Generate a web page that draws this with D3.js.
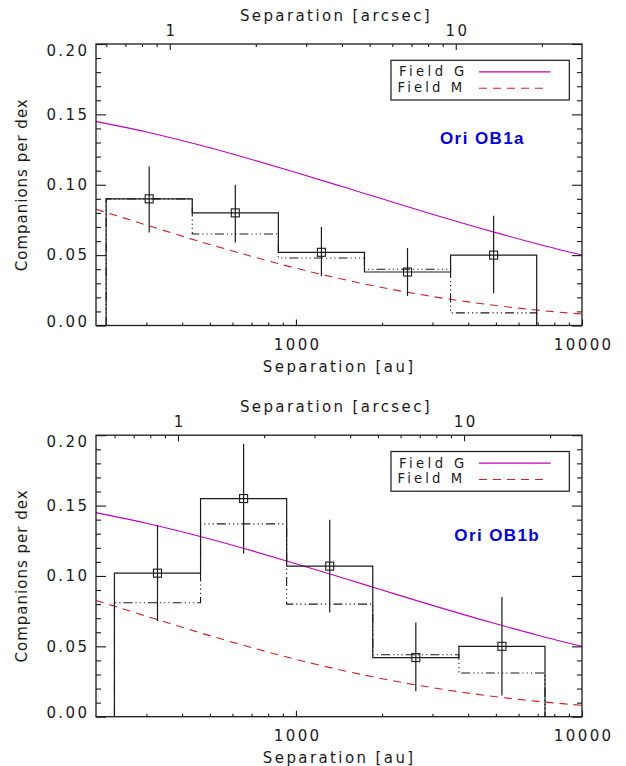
<!DOCTYPE html>
<html><head><meta charset="utf-8">
<script src="https://cdn.jsdelivr.net/npm/d3@7/dist/d3.min.js"></script>
<style>body{margin:0;background:#fff}svg{display:block}</style>
</head><body><svg id="c" width="626" height="766"></svg>
<script>
// ---- data ----
const sepGrid = [200, 300, 500, 700, 1000, 1500, 2000, 3000, 5000, 7000, 10000];
const fieldG  = [0.145, 0.1375, 0.1263, 0.118, 0.1087, 0.0978, 0.090, 0.0791, 0.066, 0.0579, 0.050];
const fieldM  = [0.0826, 0.0714, 0.0576, 0.0491, 0.0407, 0.0323, 0.027, 0.0206, 0.0142, 0.0109, 0.0081];
const legendLabels = ["Field G", "Field M"];

const ob1aEdges = [217, 434, 868, 1736, 3472, 6944];
const ob1aFrac  = [0.090, 0.080, 0.052, 0.038, 0.050];
const ob1aAlt   = [0.090, 0.065, 0.048, 0.040, 0.009];
const ob1aErrLo = [0.066, 0.059, 0.035, 0.021, 0.023];
const ob1aErrHi = [0.113, 0.100, 0.070, 0.055, 0.078];
const ob1aDist  = 362;

const ob1bEdges = [232, 464, 928, 1856, 3712, 7424];
const ob1bFrac  = [0.102, 0.155, 0.107, 0.042, 0.050];
const ob1bAlt   = [0.081, 0.137, 0.080, 0.044, 0.031];
const ob1bErrLo = [0.068, 0.116, 0.074, 0.018, 0.015];
const ob1bErrHi = [0.136, 0.194, 0.140, 0.067, 0.085];
const ob1bDist  = 387;

const yMajor = [0, 0.05, 0.10, 0.15, 0.20];
const yMinor = [0.01,0.02,0.03,0.04,0.06,0.07,0.08,0.09,0.11,0.12,0.13,0.14,0.16,0.17,0.18,0.19];
const auMajor = [1000, 10000];
const auMinor = [300,400,500,600,700,800,900,2000,3000,4000,5000,6000,7000,8000,9000];
const asMajor = [1, 10];
const asMinor = [0.6,0.7,0.8,0.9,2,3,4,5,6,7,8,9,20];

// ---- layout ----
const MAG = "#c000c0", RED = "#d02020", INK = "#1a1a1a";
const FONT = "DejaVu Sans";
const panels = [
  {name:"Ori OB1a", dist:ob1aDist, edges:ob1aEdges, frac:ob1aFrac, alt:ob1aAlt, lo:ob1aErrLo, hi:ob1aErrHi,
   off:0, lx:440, ly:144.3},
  {name:"Ori OB1b", dist:ob1bDist, edges:ob1bEdges, frac:ob1bFrac, alt:ob1bAlt, lo:ob1bErrLo, hi:ob1bErrHi,
   off:391.2, lx:454.3, ly:540.7}
];
const svg = d3.select("#c");
svg.append("rect").attr("width",626).attr("height",766).attr("fill","#fff");

function styleText(sel, ls, fs){
  sel.attr("font-family",FONT).attr("font-size",fs||15).attr("fill",INK)
     .attr("letter-spacing",(ls===undefined?2.4:ls)+"px");
}
function styleAxis(a){
  a.select(".domain").remove();
  a.selectAll("line").attr("stroke",INK).attr("stroke-width",1.1);
  a.selectAll("text").call(styleText);
}

panels.forEach(p=>{
  const top = 44 + p.off, bottom = 325.5 + p.off;
  const g = svg.append("g");
  const x = d3.scaleLog().domain([200,10000]).range([96,582]);
  const xa = d3.scaleLog().domain([200/p.dist, 10000/p.dist]).range([96,582]);
  const y = d3.scaleLinear().domain([0,0.2]).range([bottom, top]);

  // field curves
  const line = d3.line().x((d,i)=>x(sepGrid[i])).y(d=>y(d)).curve(d3.curveMonotoneX);
  g.append("path").attr("d",line(fieldM)).attr("fill","none").attr("stroke",RED)
    .attr("stroke-width",1.1).attr("stroke-dasharray","8,6");
  g.append("path").attr("d",line(fieldG)).attr("fill","none").attr("stroke",MAG).attr("stroke-width",1.1);

  // histograms
  const hpts = (edges, vals)=>{
    const pts=[[edges[0],0]];
    vals.forEach((v,i)=>{pts.push([edges[i],v]);pts.push([edges[i+1],v]);});
    pts.push([edges[edges.length-1],0]); return pts;
  };
  const hl = d3.line().x(d=>x(d[0])).y(d=>y(d[1]));
  g.append("path").attr("d",hl(hpts(p.edges,p.alt))).attr("fill","none").attr("stroke",INK)
    .attr("stroke-width",1.1).attr("stroke-dasharray","9,3,1.2,3,1.2,3,1.2,3");
  g.append("path").attr("d",hl(hpts(p.edges,p.frac))).attr("fill","none").attr("stroke",INK).attr("stroke-width",1.2);

  // error bars & markers
  const centers = p.frac.map((v,i)=>Math.sqrt(p.edges[i]*p.edges[i+1]));
  g.selectAll(".eb").data(p.frac).enter().append("line")
    .attr("x1",(d,i)=>x(centers[i])).attr("x2",(d,i)=>x(centers[i]))
    .attr("y1",(d,i)=>y(p.lo[i])).attr("y2",(d,i)=>y(p.hi[i]))
    .attr("stroke",INK).attr("stroke-width",1.2);
  g.selectAll(".mk").data(p.frac).enter().append("rect")
    .attr("x",(d,i)=>x(centers[i])-4).attr("y",d=>y(d)-4).attr("width",8).attr("height",8)
    .attr("fill","none").attr("stroke",INK).attr("stroke-width",1.1);

  // axes
  const aL = g.append("g").attr("transform","translate(96,0)")
    .call(d3.axisLeft(y).tickValues(yMajor).tickFormat(d3.format(".2f")).tickSize(-10).tickPadding(6.6));
  styleAxis(aL);
  aL.selectAll("text").attr("dy",d=> d===0.2 ? "0.75em" : (d===0 ? "0.05em" : "0.32em"));
  styleAxis(g.append("g").attr("transform","translate(96,0)")
    .call(d3.axisLeft(y).tickValues(yMinor).tickFormat("").tickSize(-5)));
  styleAxis(g.append("g").attr("transform","translate(582,0)")
    .call(d3.axisRight(y).tickValues(yMajor).tickFormat("").tickSize(-10)));
  styleAxis(g.append("g").attr("transform","translate(582,0)")
    .call(d3.axisRight(y).tickValues(yMinor).tickFormat("").tickSize(-5)));
  const aB = g.append("g").attr("transform",`translate(0,${bottom})`)
    .call(d3.axisBottom(x).tickValues(auMajor).tickFormat(d3.format("d")).tickSize(-6).tickPadding(13.9));
  styleAxis(aB); aB.selectAll("text").attr("dx","1.2");
  styleAxis(g.append("g").attr("transform",`translate(0,${bottom})`)
    .call(d3.axisBottom(x).tickValues(auMinor).tickFormat("").tickSize(-3)));
  const aT = g.append("g").attr("transform",`translate(0,${top})`)
    .call(d3.axisTop(xa).tickValues(asMajor).tickFormat(d3.format("d")).tickSize(-6).tickPadding(8));
  styleAxis(aT); aT.selectAll("text").attr("dx","1.2");
  const dom = xa.domain();
  styleAxis(g.append("g").attr("transform",`translate(0,${top})`)
    .call(d3.axisTop(xa).tickValues(asMinor.filter(v=>v>dom[0]&&v<dom[1])).tickFormat("").tickSize(-3)));

  g.append("rect").attr("x",96).attr("y",top).attr("width",486).attr("height",bottom-top)
    .attr("fill","none").attr("stroke",INK).attr("stroke-width",1.3);

  // titles
  g.append("text").attr("x",336).attr("y",20.7+p.off).attr("text-anchor","middle")
    .text("Separation [arcsec]").call(styleText);
  g.append("text").attr("x",339.2).attr("y",371.7+p.off).attr("text-anchor","middle")
    .text("Separation [au]").call(styleText);
  g.append("text").attr("transform",`translate(26.5,${(top+bottom)/2}) rotate(-90)`)
    .attr("text-anchor","middle").text("Companions per dex").call(styleText,1.0);

  // legend
  const lg = g.append("g");
  lg.append("rect").attr("x",391).attr("y",60.3+p.off).attr("width",178.3).attr("height",39.7)
    .attr("fill","#fff").attr("stroke",INK).attr("stroke-width",1.2);
  lg.append("text").attr("x",399).attr("y",76.3+p.off).text(legendLabels[0]).call(styleText,3.4,13.2);
  lg.append("text").attr("x",397.5).attr("y",92.2+p.off).text(legendLabels[1]).call(styleText,3.1,13.2);
  lg.append("line").attr("x1",479).attr("x2",550.7).attr("y1",71.9+p.off).attr("y2",71.9+p.off)
    .attr("stroke",MAG).attr("stroke-width",1.1);
  lg.append("line").attr("x1",479).attr("x2",545).attr("y1",88.3+p.off).attr("y2",88.3+p.off)
    .attr("stroke",RED).attr("stroke-width",1.1).attr("stroke-dasharray","8,6");

  g.append("text").attr("x",p.lx).attr("y",p.ly).text(p.name)
    .attr("font-family","Liberation Sans, Arial, sans-serif").attr("font-weight","bold")
    .attr("font-size",17).attr("letter-spacing","1.4px").attr("fill","#0000f0");
});
</script></body></html>
